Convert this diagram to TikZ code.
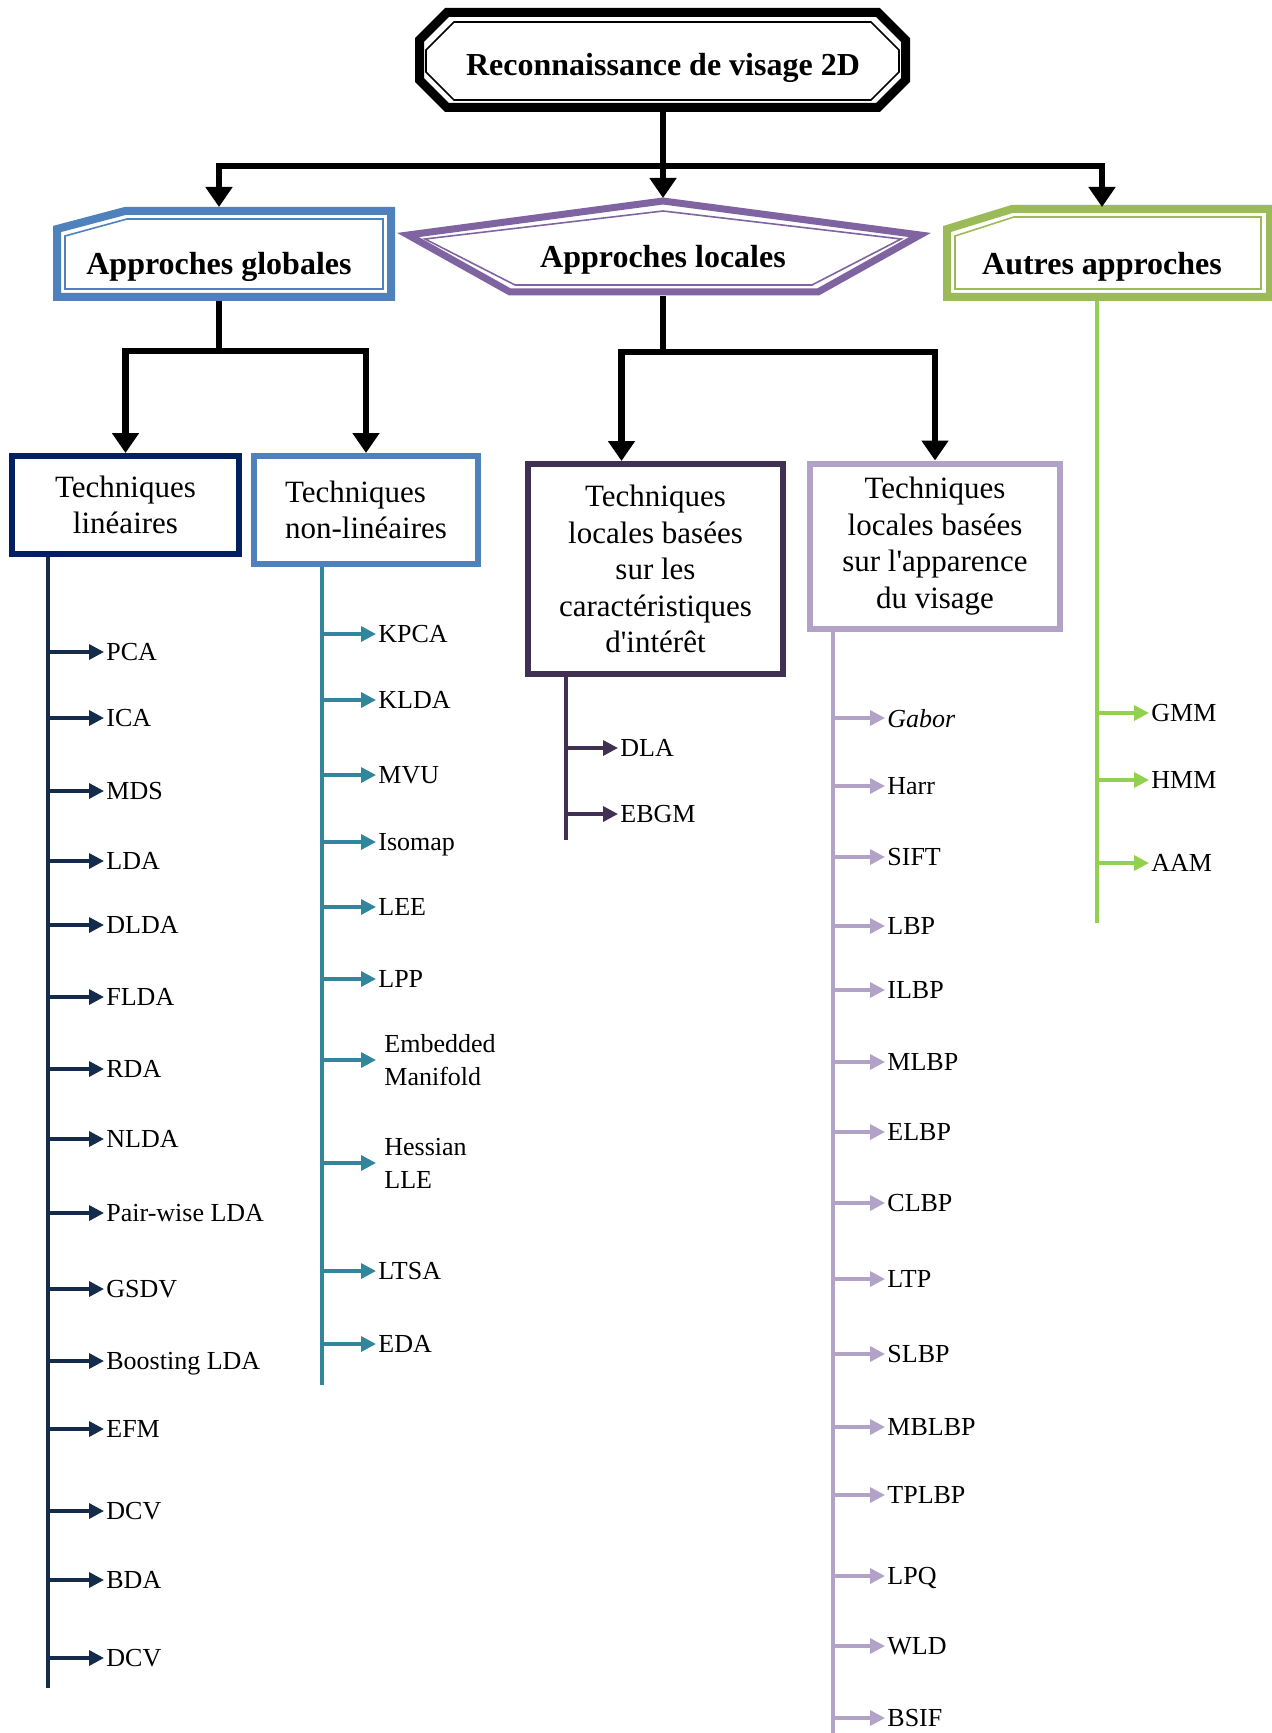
\documentclass[tikz,border=0pt]{standalone}
\usepackage{fontspec}
\setmainfont{Liberation Serif}
\usetikzlibrary{arrows.meta,calc}
\definecolor{ablue}{HTML}{4F81BD}
\definecolor{apurple}{HTML}{8064A2}
\definecolor{agreen}{HTML}{9BBB59}
\definecolor{lgreen}{HTML}{92D050}
\definecolor{cnavy}{HTML}{002060}
\definecolor{clin}{HTML}{142B4C}
\definecolor{cteal}{HTML}{31859C}
\definecolor{cplum}{HTML}{403152}
\definecolor{clilac}{HTML}{B2A2C7}

\begin{document}
\begin{tikzpicture}[x=0.5pt,y=-0.5pt,
    headtxt/.style={inner sep=0pt,outer sep=0pt,font=\bfseries\fontsize{16}{19}\selectfont},
    frameout/.style={draw=#1,line width=4pt,line join=miter},
    framein/.style={draw=#1,line width=0.8pt},
    techbox/.style={draw=#1,line width=3pt,align=center,inner sep=2pt,font=\fontsize{15.5}{18.25}\selectfont},
    trunk/.style={line width=3.2pt},
    tarr/.style={trunk,-{Triangle[length=10pt,width=13pt]}},
    spine/.style={draw=#1,line width=1.8pt},
    arr/.style={draw=#1,line width=1.7pt,-{Triangle[length=7.5pt,width=7.5pt]}},
    leaf/.style={anchor=west,inner sep=1pt,text depth=0pt,font=\fontsize{13}{16.5}\selectfont},
    leaf2/.style={anchor=west,inner xsep=4pt,inner ysep=1pt,align=left,font=\fontsize{13}{16.5}\selectfont}
]
\useasboundingbox (0,0) rectangle (1272,1733);

% headings
\node[headtxt,text height=34pt,text depth=18pt] (title) at (663,60) {Reconnaissance de visage 2D};
\draw[frameout=black,line width=4.5pt] (419.5,40) -- (447,12.5) -- (878,12.5) -- (905.5,40) -- (905.5,80) -- (878,107.5) -- (447,107.5) -- (419.5,80) -- cycle;
\draw[framein=black] (426,50) -- (454,22) -- (871,22) -- (899,50) -- (899,72) -- (871,100) -- (454,100) -- (426,72) -- cycle;

\node[headtxt,text height=34pt,text depth=13pt] (glob) at (219,254) {Approches globales};
\draw[frameout=ablue] (57,229) -- (125,211) -- (391,211) -- (391,297) -- (57,297) -- cycle;
\draw[framein=ablue] (65,236) -- (127,219) -- (383,219) -- (383,289) -- (65,289) -- cycle;

\node[headtxt,text height=35pt,text depth=14pt] (loc) at (663,247) {Approches locales};
\draw[frameout=apurple,line width=3.5pt] (663,201) -- (920,235) -- (818,292) -- (510,292) -- (408,235) -- cycle;
\draw[framein=apurple] (663,211) -- (901,239) -- (812,285) -- (515,285) -- (425,239) -- cycle;

\node[headtxt,text height=34pt,text depth=13pt] (auto) at (1102,254) {Autres approches};
\draw[frameout=agreen] (947,229) -- (1012,209) -- (1270,209) -- (1270,297) -- (947,297) -- cycle;
\draw[framein=agreen] (955,236) -- (1014,217) -- (1261,217) -- (1261,289) -- (955,289) -- cycle;

\coordinate (bar1) at (663,166);
\draw[tarr] (title.south) -- (loc.north);
\draw[tarr] (bar1) -| (glob.north);
\draw[tarr] (bar1) -| (auto.north);

% techniques
\node[techbox=cnavy,minimum width=113.5pt,minimum height=49pt] (lin) at (125.5,505) {Techniques\\linéaires};
\node[techbox=ablue,minimum width=112pt,minimum height=54pt,align=left] (nonlin) at (366,510) {Techniques\\non-linéaires};
\node[techbox=cplum,minimum width=127.5pt,minimum height=105pt] (feat) at (655.5,569) {Techniques\\locales basées\\sur les\\caractéristiques\\d\textquotesingle intérêt};
\node[techbox=clilac,minimum width=125pt,minimum height=82.5pt] (app) at (935,546) {Techniques\\locales basées\\sur l\textquotesingle apparence\\du visage};

\coordinate (bar2) at (219,351);
\draw[trunk] (glob.south) -- (bar2);
\draw[tarr] (bar2) -| (lin.north);
\draw[tarr] (bar2) -| (nonlin.north);

\coordinate (bar3) at (663,352);
\draw[trunk] (loc.south) -- (bar3);
\draw[tarr] (bar3) -| ($(feat.north)+(-34,0)$);
\draw[tarr] (bar3) -| (app.north);

% lineaires
\coordinate (linEnd) at (48,1688);
\draw[spine=clin] (lin.south -| linEnd) -- (linEnd);
\foreach \y/\t [count=\i] in {652/PCA,718/ICA,791/MDS,861/LDA,925/DLDA,997/FLDA,1069/RDA,1139/NLDA,1213/Pair-wise LDA,1289/GSDV,1361/Boosting LDA,1429/EFM,1511/DCV,1580/BDA,1658/DCV}
  {\node[leaf] (lin\i) at (104,\y) {\t};
   \draw[arr=clin] (linEnd |- lin\i.west) -- (lin\i.west);}

% non-lineaires
\coordinate (nlEnd) at (322,1385);
\draw[spine=cteal] (nonlin.south -| nlEnd) -- (nlEnd);
\foreach \y/\t [count=\i] in {634/KPCA,700/KLDA,775/MVU,842/Isomap,907/LEE,979/LPP,1271/LTSA,1344/EDA}
  {\node[leaf] (nl\i) at (376,\y) {\t};
   \draw[arr=cteal] (nlEnd |- nl\i.west) -- (nl\i.west);}
\node[leaf2] (emb) at (376,1060) {Embedded\\Manifold};
\draw[arr=cteal] (nlEnd |- emb.west) -- (emb.west);
\node[leaf2] (hes) at (376,1163) {Hessian\\LLE};
\draw[arr=cteal] (nlEnd |- hes.west) -- (hes.west);

% caracteristiques
\coordinate (featEnd) at (566,840);
\draw[spine=cplum] (feat.south -| featEnd) -- (featEnd);
\foreach \y/\t [count=\i] in {748/DLA,814/EBGM}
  {\node[leaf] (ft\i) at (618,\y) {\t};
   \draw[arr=cplum] (featEnd |- ft\i.west) -- (ft\i.west);}

% apparence
\coordinate (appEnd) at (833,1740);
\draw[spine=clilac] (app.south -| appEnd) -- (appEnd);
\foreach \y/\t [count=\i] in {718/\textit{Gabor},786/Harr,857/SIFT,926/LBP,990/ILBP,1062/MLBP,1132/ELBP,1203/CLBP,1279/LTP,1354/SLBP,1427/MBLBP,1495/TPLBP,1576/LPQ,1646/WLD,1718/BSIF}
  {\node[leaf] (ap\i) at (885,\y) {\t};
   \draw[arr=clilac] (appEnd |- ap\i.west) -- (ap\i.west);}

% autres
\coordinate (autEnd) at (1097,923);
\draw[spine=lgreen] (auto.south -| autEnd) -- (autEnd);
\foreach \y/\t [count=\i] in {713/GMM,780/HMM,863/AAM}
  {\node[leaf] (au\i) at (1149,\y) {\t};
   \draw[arr=lgreen] (autEnd |- au\i.west) -- (au\i.west);}
\end{tikzpicture}
\end{document}
